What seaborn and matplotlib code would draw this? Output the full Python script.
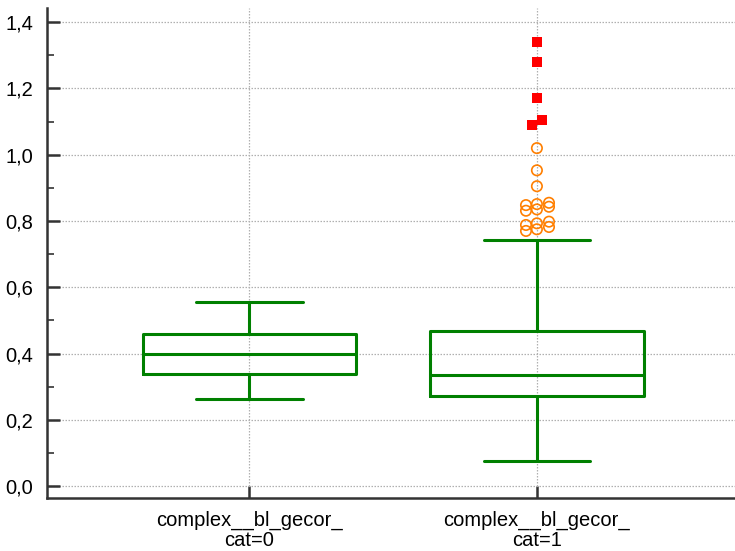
import numpy as np
import pandas as pd
import matplotlib
matplotlib.use("Agg")
import matplotlib.pyplot as plt
from matplotlib.ticker import FuncFormatter, MultipleLocator
import seaborn as sns

# ---------------- data ----------------
categories = ["complex__bl_gecor_\ncat=0", "complex__bl_gecor_\ncat=1"]
# five-number summaries (low whisker, Q1, median, Q3, high whisker)
summary_cat0 = [0.262, 0.338, 0.398, 0.459, 0.555]
summary_cat1 = [0.075, 0.272, 0.335, 0.468, 0.742]

# outliers of cat=1 (orange circles) and extremes (red squares)
outlier_values = [1.020, 0.953, 0.905,
                  0.848, 0.831, 0.851, 0.835, 0.855, 0.843,
                  0.788, 0.770, 0.793, 0.775, 0.798, 0.782]
extreme_values = [1.341, 1.279, 1.172, 1.104, 1.089]

# horizontal jitter of overlapping points (category units)
outlier_jitter = [0, 0, 0,
                  -0.038, -0.038, 0, 0, 0.042, 0.042,
                  -0.038, -0.038, 0, 0, 0.042, 0.042]
extreme_jitter = [0, 0, 0, 0.017, -0.018]

y_ticks = [0.0, 0.2, 0.4, 0.6, 0.8, 1.0, 1.2, 1.4]

# ---------------- style ----------------
sns.set_theme(style="white")
plt.rcParams["font.family"] = ["Liberation Sans", "DejaVu Sans"]
FS = 14.5

GREEN = "#008000"
ORANGE = "#FF7F00"
RED = "#FF0000"
SPINE = "#333333"

fig = plt.figure(figsize=(7.35, 5.51), dpi=100)
ax = fig.add_axes([47 / 735, (551 - 497.5) / 551, (735 - 47) / 735, (497.5 - 8) / 551])

box_df = pd.DataFrame({
    "cat": [categories[0]] * len(summary_cat0) + [categories[1]] * len(summary_cat1),
    "value": summary_cat0 + summary_cat1,
})

sns.boxplot(data=box_df, x="cat", y="value", order=categories, ax=ax,
            width=0.743, fill=False, color=GREEN, linecolor=GREEN,
            linewidth=2.2, showfliers=False, whis=1.5)

out_df = pd.DataFrame({"x": [1 + j for j in outlier_jitter], "y": outlier_values})
ext_df = pd.DataFrame({"x": [1 + j for j in extreme_jitter], "y": extreme_values})

sns.scatterplot(data=out_df, x="x", y="y", ax=ax, marker="o", s=56,
                color=ORANGE, facecolor="none", edgecolor=ORANGE,
                linewidth=1.2, zorder=5)
sns.scatterplot(data=ext_df, x="x", y="y", ax=ax, marker="s", s=58,
                color=RED, edgecolor=RED, linewidth=0, zorder=6)

# ---------------- axes ----------------
ax.set_xlim(-0.704, 1.689)
ax.set_ylim(-0.0347, 1.443)
ax.set_xticks([0, 1])
ax.set_xticklabels(categories, fontsize=FS, linespacing=1.06)
ax.set_yticks(y_ticks)
ax.yaxis.set_minor_locator(MultipleLocator(0.1))
ax.yaxis.set_major_formatter(FuncFormatter(lambda v, p: f"{v:.1f}".replace(".", ",")))
ax.set_xlabel("")
ax.set_ylabel("")

for s in ["top", "right"]:
    ax.spines[s].set_visible(False)
for s in ["left", "bottom"]:
    ax.spines[s].set_visible(True)
    ax.spines[s].set_color(SPINE)
    ax.spines[s].set_linewidth(1.8)

ax.tick_params(axis="y", which="major", direction="in", length=9, width=1.8,
               color=SPINE, labelsize=FS, pad=10, left=True)
ax.tick_params(axis="y", which="minor", direction="in", length=5, width=1.2,
               color=SPINE, left=True)
ax.tick_params(axis="x", which="major", direction="in", length=9, width=1.8,
               color=SPINE, labelsize=FS, pad=9.5, bottom=True)
for lbl in ax.get_xticklabels() + ax.get_yticklabels():
    lbl.set_color("black")

ax.grid(True, which="major", color="#B0B0B0", linestyle=(0, (1.2, 1.2)), linewidth=0.9)
ax.set_axisbelow(True)

fig.savefig("out.png", dpi=100)
